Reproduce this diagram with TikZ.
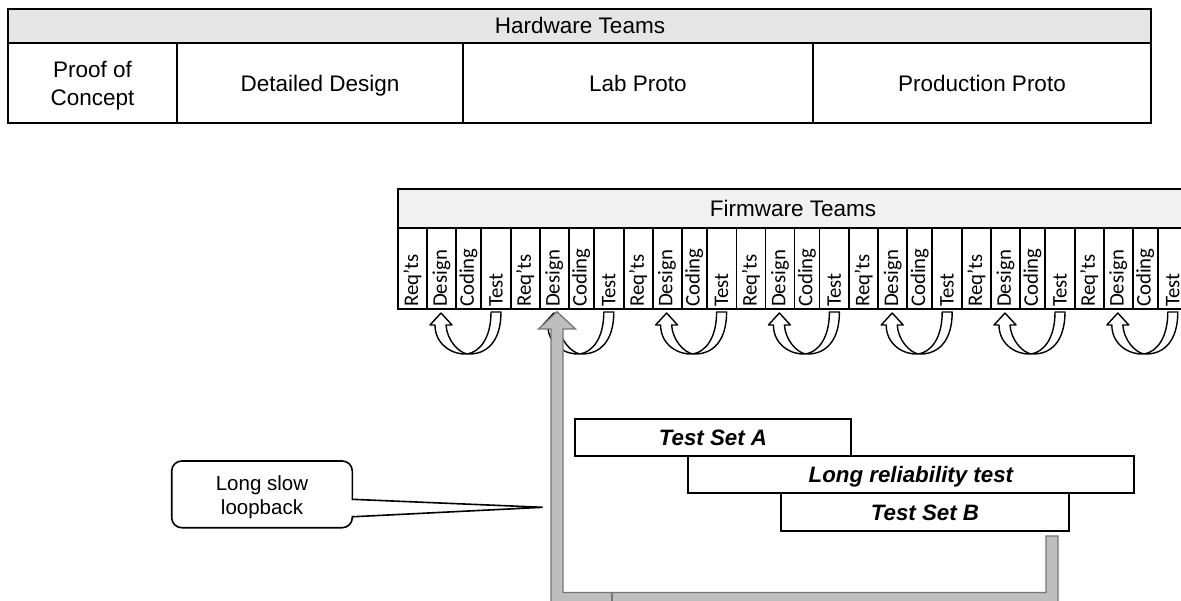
\documentclass[tikz,border=0pt]{standalone}
\usepackage{fontspec}
\setmainfont{Liberation Sans}
\newfontfamily\colfont{Carlito}
\usetikzlibrary{calc}
\definecolor{hwhead}{RGB}{229,229,229}
\definecolor{fwhead}{RGB}{241,241,241}
\definecolor{loopfill}{RGB}{190,190,190}
\definecolor{loopline}{RGB}{118,118,118}
\tikzset{
  tbl/.style={draw=black, line width=1.8pt},
  hwtext/.style={font=\fontsize{22.5}{28}\selectfont, inner sep=0pt, anchor=base},
  coltext/.style={font=\colfont\fontsize{20.8}{24}\selectfont, rotate=90, anchor=west, inner sep=0pt},
  testbox/.style={draw=black, line width=1.8pt, fill=white, inner sep=0pt,
    text height=16pt, text depth=0pt,
    font=\fontsize{22.3}{26}\selectfont\bfseries\itshape},
  uturn/.style={draw=black, line width=1.4pt, fill=white, line join=round},
  loopback/.style={draw=loopline, line width=1.3pt, fill=loopfill, line join=miter},
  calloutbox/.style={draw=black, line width=1.6pt, fill=white, rounded corners=10pt, inner sep=0pt},
  callouttext/.style={font=\fontsize{20.5}{24.3}\selectfont, align=center, inner sep=0pt},
}
\begin{document}
\begin{tikzpicture}[x=1pt,y=-1pt]
\useasboundingbox (0,0) rectangle (1181,601);
\clip (0,0) rectangle (1181,601);
\fill[white] (0,0) rectangle (1181,601);

% ---- Hardware teams table ----
\fill[hwhead] (8,9.3) rectangle (1151,42.7);
\draw[tbl] (8,9.3) rectangle (1151,123.3);
\draw[tbl] (8,42.7) -- (1151,42.7);
\foreach \x in {177,463,813} \draw[tbl] (\x,42.7) -- (\x,123.3);
\node[hwtext] (hwtitle) at (580,34) {Hardware Teams};
\node[hwtext, anchor=center, align=center] (poc) at (92.5,86) {Proof of\\Concept};
\node[hwtext] (dd) at (320,91.7) {Detailed Design};
\node[hwtext] (lab) at (638,91.7) {Lab Proto};
\node[hwtext] (prod) at (982,91.7) {Production Proto};

% ---- Firmware teams table ----
\fill[fwhead] (398,189) rectangle (1188,228.3);
\draw[tbl] (398,189) rectangle (1188,228.3);
\node[hwtext] (fwtitle) at (793,217) {Firmware Teams};
\foreach \k in {0,...,6}{
  \pgfmathsetmacro\g{398+112.8*\k}
  \foreach \a/\b/\t [count=\i] in {0/29/Req’ts,29/58/Design,58/83/Coding,83/112.8/Test}{
    \draw[tbl] (\g+\a,228.3) rectangle (\g+\b,309.3);
    \node[coltext] (col-\k-\i) at ({\g+(\a+\b)/2},307) {\t};
  }
  % iteration loop from Test back to Design
  \draw[uturn] (\g+93,312) .. controls (\g+93,338) and (\g+82,352) .. (\g+69,354)
    .. controls (\g+60,352) and (\g+49,340) .. (\g+48,325)
    -- (\g+54,325) -- (\g+43,313) -- (\g+32,325) -- (\g+37,325)
    .. controls (\g+37,345) and (\g+55,355) .. (\g+69,354)
    .. controls (\g+90,355) and (\g+103,340) .. (\g+103,312) -- cycle;
}

% ---- Test sets ----
\node[testbox, minimum width=276pt, minimum height=36.7pt] (tsa) at (713,437.3) {Test Set A};
\node[testbox, minimum width=446.3pt, minimum height=37.6pt] (lrt) at (910.9,474.5) {Long reliability test};
\node[testbox, minimum width=288pt, minimum height=37.4pt] (tsb) at (925,512) {Test Set B};

% ---- Long loopback from the test sets to design ----
\coordinate (lbtip) at (557,311.7);
\coordinate (lbtail) at (1052,536);
\draw[loopback] ($(lbtail)+(-6,0)$) -- ($(lbtail)+(6,0)$) -- (1058,604.5) -- (551,604.5)
  -- (551,329) -- ($(lbtip)+(-18.5,17.3)$) -- (lbtip) -- ($(lbtip)+(18.5,17.3)$)
  -- (563,329) -- (563,592.5) -- (1046,592.5) -- cycle;
\draw[draw=loopline, line width=1.3pt] (612,592.5) -- (612,604.5);

% ---- Callout ----
\node[calloutbox, minimum width=180.6pt, minimum height=66.7pt] (callout) at (262,494.35) {};
\coordinate (ptip) at (542.7,507.3);
\fill[white] ($(callout.east)+(-2.5,6)$) -- (ptip) -- ($(callout.east)+(-2.5,21.4)$) -- cycle;
\draw[line width=1.6pt, line join=miter] ($(callout.east)+(0,5)$) -- (ptip) -- ($(callout.east)+(0,22.4)$);
\node[callouttext] (calltext) at (262,497.5) {Long slow\\loopback};
\end{tikzpicture}
\end{document}
